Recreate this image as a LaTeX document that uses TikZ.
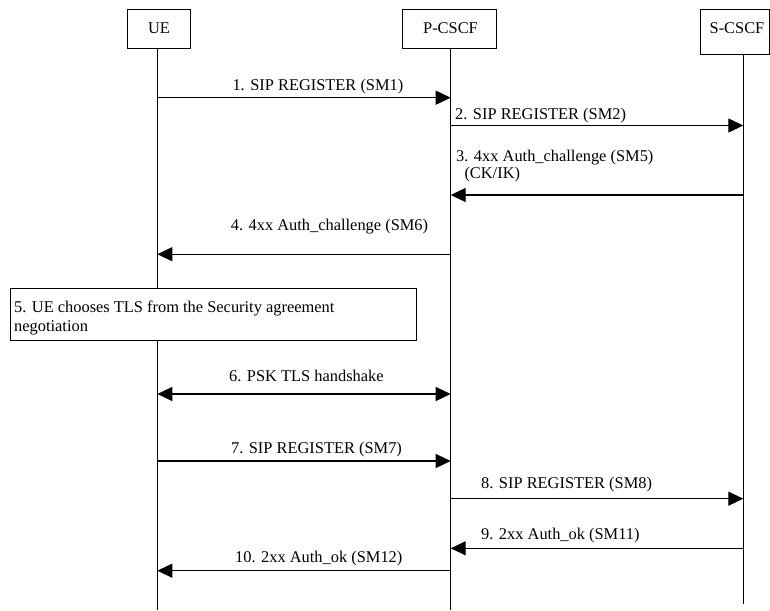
\documentclass[tikz,border=0pt]{standalone}
\usepackage{fontspec}
\setmainfont{Liberation Serif}
\usetikzlibrary{arrows.meta}
\begin{document}
\begin{tikzpicture}[x=1pt,y=-1pt,
  font=\fontsize{16.4}{18.3}\selectfont,
  entity/.style={draw,line width=0.9pt,fill=white},
  lifeline/.style={line width=0.9pt},
  msg/.style={line width=1.2pt,-{Triangle[length=15pt,width=14pt]}},
  msgboth/.style={line width=1.2pt,{Triangle[length=15pt,width=14pt]}-{Triangle[length=15pt,width=14pt]}},
  lbl/.style={anchor=base west,inner sep=0pt}]
\useasboundingbox (0,0) rectangle (770,610);

% participant boxes
\draw[entity] (127,9) rectangle (190.7,48.3);
\draw[entity] (402.7,9) rectangle (496.7,48.3);
\draw[entity] (700.7,9) rectangle (769.4,54);
\node[anchor=base,inner sep=0pt] (ue) at (159,33.3) {UE};
\node[anchor=base,inner sep=0pt] (pcscf) at (450.5,34) {P-CSCF};
\node[anchor=base,inner sep=0pt] (scscf) at (737,33.3) {S-CSCF};

% lifelines
\coordinate (ueTop) at (157.3,48.3);
\coordinate (ueEnd) at (157.3,610);
\coordinate (pTop) at (450.7,48.3);
\coordinate (pEnd) at (450.7,610);
\coordinate (sTop) at (743.3,54);
\coordinate (sEnd) at (743.3,604);
\draw[lifeline] (ueTop) -- (ueEnd);
\draw[lifeline] (pTop) -- (pEnd);
\draw[lifeline] (sTop) -- (sEnd);

% message anchor points on the lifelines
\foreach \n/\y in {1/97.7,2/125.5,3/195,4/254.2,6/394,7/461,8/498.7,9/548.3,10/570.7}{
  \coordinate (u\n) at (157.3,\y);
  \coordinate (p\n) at (450.7,\y);
  \coordinate (s\n) at (743.3,\y);
}

% messages
\draw[msg] (u1) -- (p1);
\node[lbl] (l1) at (232.3,90) {1. SIP REGISTER (SM1)};
\draw[msg] (p2) -- (s2);
\node[lbl] (l2) at (455,119.3) {2. SIP REGISTER (SM2)};
\draw[msg] (s3) -- (p3);
\node[lbl] (l3a) at (456,161.7) {3. 4xx Auth\_challenge (SM5)};
\node[lbl] (l3b) at (464.3,178.3) {(CK/IK)};
\draw[msg] (p4) -- (u4);
\node[lbl] (l4) at (230.7,230.7) {4. 4xx Auth\_challenge (SM6)};

% local step box
\draw[entity] (10,288.3) rectangle (416,340);
\node[lbl] (l5a) at (14,312.7) {5. UE chooses TLS from the Security agreement};
\node[lbl] (l5b) at (14,331) {negotiation};

\draw[msgboth] (u6) -- (p6);
\node[lbl] (l6) at (229,381) {6. PSK TLS handshake};
\draw[msg] (u7) -- (p7);
\node[lbl] (l7) at (230.9,453.3) {7. SIP REGISTER (SM7)};
\draw[msg] (p8) -- (s8);
\node[lbl] (l8) at (481,488.3) {8. SIP REGISTER (SM8)};
\draw[msg] (s9) -- (p9);
\node[lbl] (l9) at (481,539.3) {9. 2xx Auth\_ok (SM11)};
\draw[msg] (p10) -- (u10);
\node[lbl] (l10) at (235,562.3) {10. 2xx Auth\_ok (SM12)};
\end{tikzpicture}
\end{document}
